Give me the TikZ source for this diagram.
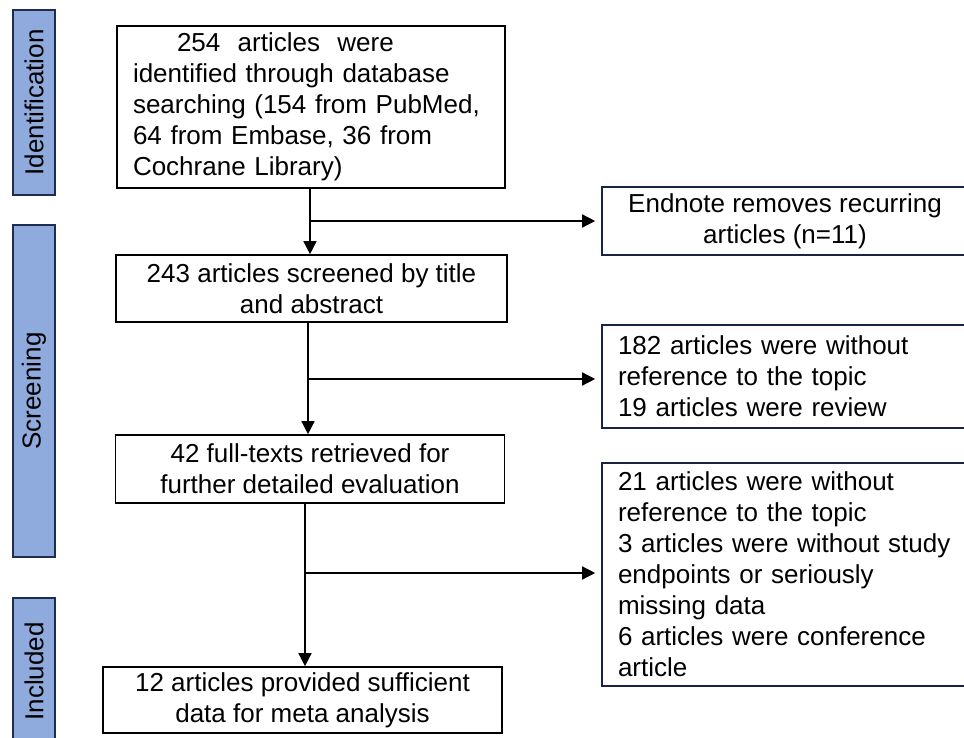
\documentclass[tikz,border=0pt]{standalone}
\usepackage{fontspec}
\setmainfont{Liberation Sans}
\usetikzlibrary{arrows.meta}
\definecolor{stageblue}{RGB}{143,170,220}
\definecolor{stageedge}{RGB}{31,45,80}
\definecolor{navyedge}{RGB}{25,35,70}
\tikzset{flowbox/.style={draw=black, line width=1.6pt, inner xsep=16pt, inner ysep=0pt,
        font=\fontsize{26}{31}\selectfont},
    sidebox/.style={flowbox, draw=navyedge},
    stage/.style={draw=stageedge, fill=stageblue, line width=1.6pt, rotate=90,
        inner sep=0pt, minimum height=42pt, font=\fontsize{26}{31}\selectfont},
    flowarrow/.style={-{Triangle[length=13pt,width=13pt]}, line width=1.4pt}
}

\begin{document}
\begin{tikzpicture}[x=1pt,y=-1pt]
      \useasboundingbox (0,0) rectangle (964,738);
      \node[stage,minimum width=185pt] (ident) at (34,102.5) {Identification};
      \node[stage,minimum width=332pt] (screen) at (34,391) {Screening};
      \node[stage,minimum width=147pt] (incl) at (34,671.5) {Included};
      \node[flowbox,text width=356pt,minimum height=162pt,align=left] (found) at (311,107)
          {\hspace*{44pt}254~~articles~~were\\identified through database\\searching (154 from PubMed,\\64 from Embase, 36 from\\Cochrane Library)};
      \node[flowbox,minimum width=391pt,minimum height=67pt,align=center] (screened) at (311.5,288.5)
          {243 articles screened by title\\and abstract};
      \node[flowbox,minimum width=389pt,minimum height=68pt,align=center] (fulltext) at (310,469)
          {42 full-texts retrieved for\\further detailed evaluation};
      \node[flowbox,minimum width=399pt,minimum height=66pt,align=center] (included) at (302.5,700)
          {12 articles provided sufficient\\data for meta analysis};
      \node[sidebox,minimum width=366pt,minimum height=68pt,align=center] (dupes) at (785,221)
          {Endnote removes recurring\\articles (n=11)};
      \node[sidebox,text width=334pt,minimum height=103pt,align=left] (excl1) at (785,376.5)
          {182 articles were without\\reference to the topic\\19 articles were review};
      \node[sidebox,text width=334pt,minimum height=223pt,align=left] (excl2) at (785,574.5)
          {21 articles were without\\reference to the topic\\3 articles were without study\\endpoints or seriously\\missing data\\6 articles were conference\\article};
      \coordinate (fork1) at (310,221);
      \coordinate (fork2) at (308,379);
      \coordinate (fork3) at (305,573);
      \draw[flowarrow] (found.south -| fork1) -- (screened.north -| fork1);
      \draw[flowarrow,shorten >=6pt] (fork1) -- (fork1 -| dupes.west);
      \draw[flowarrow] (screened.south -| fork2) -- (fulltext.north -| fork2);
      \draw[flowarrow,shorten >=6pt] (fork2) -- (fork2 -| excl1.west);
      \draw[flowarrow] (fulltext.south -| fork3) -- (included.north -| fork3);
      \draw[flowarrow,shorten >=6pt] (fork3) -- (fork3 -| excl2.west);
    \end{tikzpicture}
\end{document}
